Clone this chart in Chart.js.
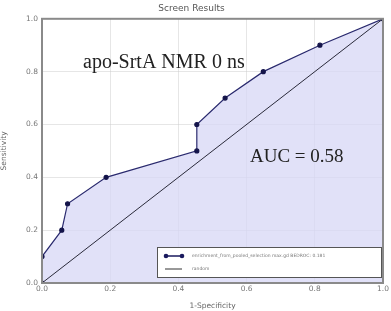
<!DOCTYPE html>
<html><head><meta charset="utf-8">
<script src="https://cdn.jsdelivr.net/npm/chart.js@4"></script>
<style>html,body{margin:0;padding:0;background:#fff}#wrap{width:391px;height:311px}</style>
</head><body><div id="wrap"><canvas id="c" width="391" height="311"></canvas></div>
<script>
const fprValues = [0.0, 0.0, 0.058, 0.075, 0.188, 0.454, 0.454, 0.537, 0.649, 0.815, 1.0];
const tprValues = [0.0, 0.1, 0.2, 0.3, 0.4, 0.5, 0.6, 0.7, 0.8, 0.9, 1.0];
const randomX = [0.0, 1.0];
const randomY = [0.0, 1.0];
const tickValues = [0.0, 0.2, 0.4, 0.6, 0.8, 1.0];
const seriesLabels = ["enrichment_from_pooled_selection max.gd BEDROC: 0.181", "random"];
const chartTitle = "Screen Results";
const annotations = ["apo-SrtA NMR 0 ns", "AUC = 0.58"];

const roc = fprValues.map((x, i) => ({x: x, y: tprValues[i]}));
const rnd = randomX.map((x, i) => ({x: x, y: randomY[i]}));

const overlay = {
  id: 'overlay',
  afterDatasetsDraw(chart) {
    const ctx = chart.ctx, a = chart.chartArea;
    ctx.save();
    // frame
    ctx.strokeStyle = '#8a8a8a';
    ctx.lineWidth = 2;
    ctx.strokeRect(a.left, a.top, a.right - a.left, a.bottom - a.top);
    // annotations
    ctx.fillStyle = '#222';
    ctx.font = '20px "Liberation Serif", "DejaVu Serif", serif';
    ctx.textBaseline = 'middle';
    ctx.textAlign = 'left';
    ctx.fillText(annotations[0], 83, 63);
    ctx.font = '19px "Liberation Serif", "DejaVu Serif", serif';
    ctx.fillText(annotations[1], 250, 157);
    // legend box
    const lx = 157, ly = 247, lw = 224, lh = 30;
    ctx.fillStyle = '#ffffff';
    ctx.fillRect(lx, ly, lw, lh);
    ctx.strokeStyle = '#555';
    ctx.lineWidth = 1;
    ctx.strokeRect(lx + 0.5, ly + 0.5, lw, lh);
    ctx.strokeStyle = '#1a1a5e';
    ctx.lineWidth = 1.5;
    ctx.beginPath(); ctx.moveTo(166, 256); ctx.lineTo(182, 256); ctx.stroke();
    ctx.fillStyle = '#1a1a5e';
    [166, 182].forEach(px => { ctx.beginPath(); ctx.arc(px, 256, 2.3, 0, Math.PI * 2); ctx.fill(); });
    ctx.strokeStyle = '#333';
    ctx.lineWidth = 1;
    ctx.beginPath(); ctx.moveTo(165, 269); ctx.lineTo(182, 269); ctx.stroke();
    ctx.fillStyle = '#777';
    ctx.font = '4.5px "DejaVu Sans", sans-serif';
    ctx.fillText(seriesLabels[0], 192, 256);
    ctx.fillText(seriesLabels[1], 192, 269);
    ctx.restore();
  }
};

new Chart(document.getElementById('c'), {
  type: 'scatter',
  data: {
    datasets: [
      {
        label: seriesLabels[0], data: roc, showLine: true,
        borderColor: '#2a2a6e', borderWidth: 1.2,
        backgroundColor: 'rgba(215,215,245,0.75)',
        pointBackgroundColor: '#14144a', pointBorderColor: '#14144a',
        pointRadius: 2, fill: 'origin', tension: 0, order: 2
      },
      {
        label: seriesLabels[1], data: rnd, showLine: true,
        borderColor: '#2a2a3a', borderWidth: 1, pointRadius: 0, fill: false, order: 1
      }
    ]
  },
  options: {
    responsive: false, animation: false,
    layout: {padding: {left: 0, right: 8, top: 0, bottom: 0}},
    plugins: {
      legend: {display: false}, tooltip: {enabled: false},
      title: {display: true, text: chartTitle, color: '#555',
        font: {size: 9, family: '"DejaVu Sans", sans-serif', weight: 'normal'},
        padding: {top: 3, bottom: 5}}
    },
    scales: {
      x: {
        type: 'linear', min: 0, max: 1,
        afterBuildTicks: s => { s.ticks = tickValues.map(v => ({value: v})); },
        afterFit: s => { s.height = 28; },
        ticks: {color: '#777', font: {size: 7.5, family: '"DejaVu Sans", sans-serif'}, padding: 2,
          callback: v => v.toFixed(1), maxRotation: 0},
        grid: {color: 'rgba(205,205,205,0.5)', tickLength: 0, drawTicks: false},
        border: {color: '#888', width: 2},
        title: {display: true, text: '1-Specificity', color: '#666',
          font: {size: 7.5, family: '"DejaVu Sans", sans-serif'}, padding: {top: 1, bottom: 0}}
      },
      y: {
        type: 'linear', min: 0, max: 1,
        afterBuildTicks: s => { s.ticks = tickValues.map(v => ({value: v})); },
        afterFit: s => { s.width = 42; },
        ticks: {color: '#777', font: {size: 7.5, family: '"DejaVu Sans", sans-serif'}, padding: 4,
          callback: v => v.toFixed(1)},
        grid: {color: 'rgba(205,205,205,0.5)', tickLength: 0, drawTicks: false},
        border: {color: '#888', width: 2},
        title: {display: true, text: 'Sensitivity', color: '#666',
          font: {size: 7.5, family: '"DejaVu Sans", sans-serif'}, padding: {top: 0, bottom: 6}}
      }
    }
  },
  plugins: [overlay]
});
</script></body></html>
